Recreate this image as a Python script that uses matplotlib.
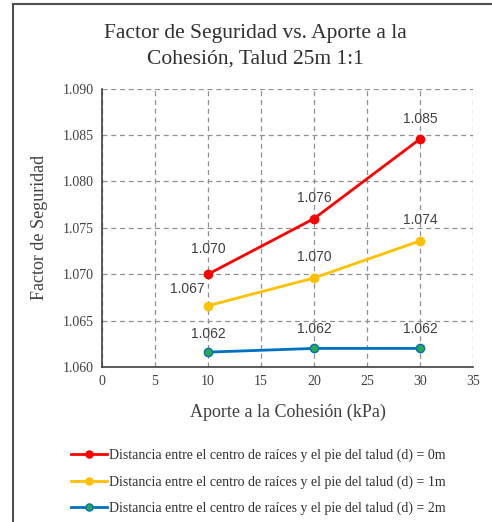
import matplotlib.pyplot as plt
from matplotlib.lines import Line2D

# datos
aporte = [10, 20, 30]
fs_d0 = [1.0700, 1.0760, 1.0846]
fs_d1 = [1.0666, 1.0696, 1.0736]
fs_d2 = [1.0616, 1.0620, 1.0620]
nombres = ['Distancia entre el centro de raíces y el pie del talud (d) = 0m',
           'Distancia entre el centro de raíces y el pie del talud (d) = 1m',
           'Distancia entre el centro de raíces y el pie del talud (d) = 2m']

serif = ['Liberation Serif', 'DejaVu Serif']
sans = ['Liberation Sans', 'DejaVu Sans']

fig = plt.figure(figsize=(4.92, 5.22), dpi=100)
ax = fig.add_axes([0.207, 0.297, 0.755, 0.533])

# color linea, color marcador, desplazamiento de etiquetas (puntos)
series = [
    (fs_d0, '#ff0000', '#ff0000', [(0, 13), (0, 10), (0, 9)]),
    (fs_d1, '#ffc000', '#ffc000', [(-15, 7), (0, 10), (0, 10)]),
    (fs_d2, '#0070c0', '#2aa84a', [(0, 8), (0, 9), (0, 9)]),
]
for i, (vals, col, face, offs) in enumerate(series):
    ax.plot(aporte, vals, color=col, lw=2, marker='o', ms=6,
            markerfacecolor=face, markeredgecolor=col, markeredgewidth=1.0,
            label=nombres[i], zorder=3)
    for (x, y), off in zip(zip(aporte, vals), offs):
        ax.annotate(f'{y:.3f}', (x, y), xytext=off, textcoords='offset points',
                    ha='center', va='bottom', fontsize=10, color='#404040',
                    family=sans)

ax.set_xlim(0, 35)
ax.set_ylim(1.060, 1.090)
ax.set_xticks(range(0, 36, 5))
ax.set_yticks([1.060, 1.065, 1.070, 1.075, 1.080, 1.085, 1.090])
ax.set_yticklabels([f'{v:.3f}' for v in ax.get_yticks()])
ax.grid(True, ls=(0, (4, 3)), color='#909090', lw=0.9)
ax.set_axisbelow(True)
for s in ['top', 'right']:
    ax.spines[s].set_visible(False)
for s in ['left', 'bottom']:
    ax.spines[s].set_color('#404040')
    ax.spines[s].set_linewidth(1.2)
ax.tick_params(length=0, labelsize=10, colors='#404040', pad=6)
for t in ax.get_xticklabels() + ax.get_yticklabels():
    t.set_family(serif)

ax.set_xlabel('Aporte a la Cohesión (kPa)', fontsize=13, family=serif,
              color='#404040', labelpad=11)
ax.set_ylabel('Factor de Seguridad', fontsize=13, family=serif,
              color='#404040', labelpad=10)
fig.text(0.52, 0.912, 'Factor de Seguridad vs. Aporte a la\nCohesión, Talud 25m 1:1',
         ha='center', va='center', fontsize=15.5, family=serif, color='#303030',
         linespacing=1.45)

leg = fig.legend(loc='upper center', bbox_to_anchor=(0.525, 0.165),
                 ncol=1, frameon=False, handlelength=2.6, markerscale=0.85,
                 handletextpad=0.15, labelspacing=0.95,
                 prop={'family': serif, 'size': 10})
for t in leg.get_texts():
    t.set_color('#303030')

# marco del grafico
fig.add_artist(Line2D([0.027, 0.027], [0.0, 0.992], color='#505050', lw=1.5))
fig.add_artist(Line2D([0.027, 1.0], [0.992, 0.992], color='#505050', lw=1.5))

fig.savefig('out.png', dpi=100)
